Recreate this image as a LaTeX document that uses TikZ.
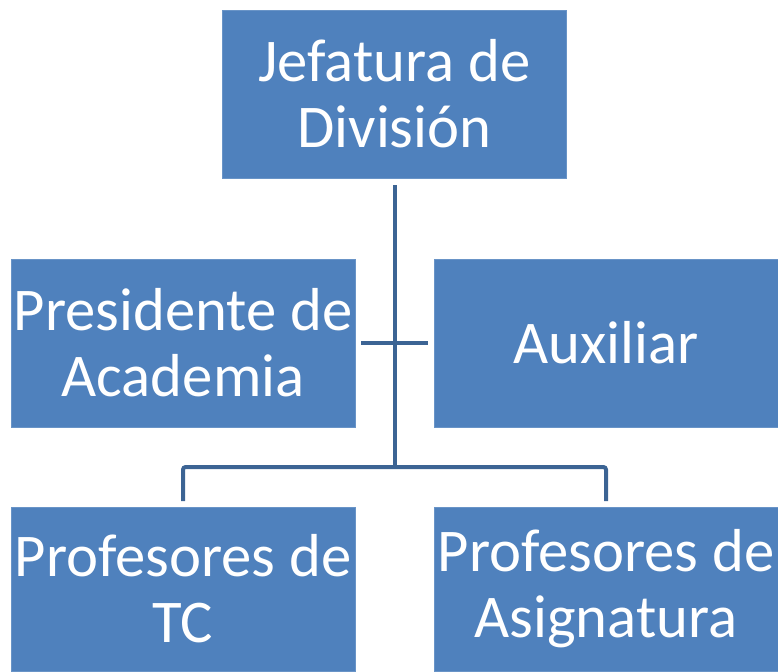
\documentclass[tikz,border=0pt]{standalone}
\usepackage{fontspec}
\setmainfont{Carlito}
\definecolor{boxblue}{HTML}{4F81BD}
\definecolor{lineblue}{HTML}{3C6494}
\tikzset{
  box/.style={fill=boxblue, draw=boxblue!85!white, text=white, align=center,
    minimum width=258pt, minimum height=126pt, inner sep=0pt,
    font=\fontsize{45.5}{49.5}\selectfont},
  conn/.style={draw=lineblue, line width=3pt}
}
\begin{document}
\begin{tikzpicture}[x=0.75pt, y=-0.75pt]
		\useasboundingbox (0,0) rectangle (778,671);
		\node[box] (jefe) at (394.5,94) {Jefatura de\\División};
		\node[box] (pres) at (183,343) {Presidente de\\Academia};
		\node[box] (aux) at (606,343) {Auxiliar};
		\node[box, minimum height=123pt] (ptc) at (183,589) {Profesores de\\TC};
		\node[box, minimum height=123pt] (pasig) at (606,589) {Profesores de\\Asignatura};
		\coordinate (top) at (395,185);
		\coordinate (mid) at (395,467);
		\coordinate (ha) at (361,343);
		\coordinate (hb) at (428,343);
		\coordinate (lt) at (183,501);
		\coordinate (rt) at (606,501);
		\draw[conn] (top) -- (mid);
		\draw[conn] (ha) -- (hb);
		\draw[conn, rounded corners=2pt] (lt) |- (mid) -| (rt);
		\end{tikzpicture}
\end{document}
